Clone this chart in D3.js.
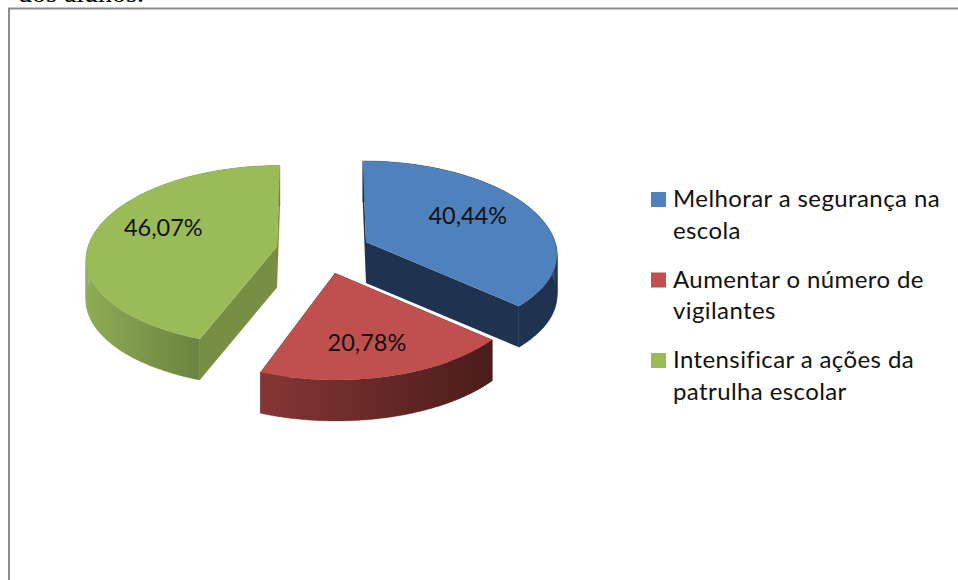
<!DOCTYPE html>
<html lang="pt">
<head>
<meta charset="utf-8">
<title>Segurança na escola</title>
<script src="https://cdn.jsdelivr.net/npm/d3@7"></script>
<style>
  html, body { margin: 0; padding: 0; background: #fff; overflow: hidden; }
  svg { display: block; }
  text { font-family: Lato, "Open Sans", sans-serif; fill: #111; }
</style>
</head>
<body>
<svg id="chart" width="958" height="580"></svg>
<script>
// Survey answers, in drawing order
const categories = ["Melhorar a segurança na escola", "Aumentar o número de vigilantes", "Intensificar a ações da patrulha escolar"];
const legendLines = [["Melhorar a segurança na", "escola"], ["Aumentar o número de", "vigilantes"], ["Intensificar a ações da", "patrulha escolar"]];
const values = [40.44, 20.78, 46.07];

// Top faces, cut faces and the two ends of each rim gradient
const topColors = ["#4f81bd", "#c0504d", "#9bbb59"];
const cutColors = ["#1f3350", "#4c1d1b", "#768f43"];
const rimColors = [["#1f3350", "#1f3350"], ["#853635", "#4a1c1a"], ["#8eab55", "#6a8440"]];

// Apex of each exploded slice, its foreshortening and angle warp, and its label nudge
const apexes = [[366, 242], [335, 273], [277, 246.5]];
const frontShrink = [0.085, 0, 0.07];
const angleWarps = [5.3, 5.3, 4.2];
const labelNudges = [[1, -4], [-3, 6], [-2, -8]];

const svg = d3.select("#chart");
const radiusX = 189, radiusY = 92.2, perspective = 0.138, depth = 41;
const vanishX = 320, lean = 0.07;

// Perspective projection of a point on the pie disc (angle from 12 o'clock, clockwise)
function project(i, angle, r = 1) {
  const apex = apexes[i];
  const half = Math.sin(angle / 2);
  const a = angle - angleWarps[i] * Math.PI / 180 * half * half;
  const c = Math.cos(a), s = Math.sin(a);
  const front = Math.min(0, c);
  const w = (1 + perspective * c) / (1 - frontShrink[i] * front * front);
  return [
    apex[0] + r * radiusX * s / w + (vanishX - apex[0]) * lean * c * r,
    apex[1] - r * radiusY * c / w
  ];
}

const slices = d3.pie().sort(null)(values);
const outline = d3.line();
const defs = svg.append("defs");

// Page frame and the end of the caption running above it
svg.append("text").attr("x", 18).attr("y", 1.5)
  .style("font-family", "'Liberation Serif', serif").style("font-size", "28px")
  .style("fill", "#000").text("dos alunos.");
svg.append("path").attr("d", "M9,580V8.5H958").attr("fill", "none")
  .attr("stroke", "#8c8c8c").attr("stroke-width", 2);

function arcPoints(d, i) {
  const steps = 96;
  return d3.range(steps + 1).map(k =>
    project(i, d.startAngle + (d.endAngle - d.startAngle) * k / steps));
}

slices.forEach((d, i) => {
  const apex = apexes[i];
  const rim = arcPoints(d, i);
  const g = svg.append("g").attr("class", "slice");

  const xs = d3.extent(rim.filter(p => p[1] > apex[1] - 20), p => p[0]);
  const gradId = "rim" + i;
  const grad = defs.append("linearGradient").attr("id", gradId)
    .attr("gradientUnits", "userSpaceOnUse")
    .attr("x1", xs[0]).attr("x2", xs[1]).attr("y1", 0).attr("y2", 0);
  grad.append("stop").attr("offset", 0).attr("stop-color", rimColors[i][0]);
  grad.append("stop").attr("offset", 1).attr("stop-color", rimColors[i][1]);

  // Cut faces go first, then the rim as a strip of small quads, then the top face
  [rim[0], rim[rim.length - 1]].forEach(p => {
    g.append("path")
      .attr("d", outline([apex, p, [p[0], p[1] + depth], [apex[0], apex[1] + depth]]) + "Z")
      .attr("fill", cutColors[i]);
  });
  const strip = d3.pairs(rim).map(([a, b]) =>
    outline([a, b, [b[0], b[1] + depth], [a[0], a[1] + depth]]) + "Z").join("");
  g.append("path").attr("d", strip)
    .attr("fill", `url(#${gradId})`)
    .attr("stroke", `url(#${gradId})`).attr("stroke-width", 0.4);
  g.append("path")
    .attr("d", outline([apex].concat(rim)) + "Z")
    .attr("fill", topColors[i]);
});

// Value labels inside the top faces
const formatValue = v => d3.format(".2f")(v).replace(".", ",") + "%";
svg.selectAll("text.value").data(slices).join("text")
  .attr("class", "value")
  .attr("text-anchor", "middle")
  .style("font-size", "23.5px")
  .attr("x", (d, i) => project(i, (d.startAngle + d.endAngle) / 2, 0.62)[0] + labelNudges[i][0])
  .attr("y", (d, i) => project(i, (d.startAngle + d.endAngle) / 2, 0.62)[1] + labelNudges[i][1] + 8)
  .text(d => formatValue(d.value));

// Legend: swatch plus two wrapped lines for each answer
const legendY = d3.scalePoint().domain(categories).range([207, 368]);
const legend = svg.selectAll("g.legend").data(categories).join("g")
  .attr("class", "legend")
  .attr("transform", d => `translate(651,${legendY(d)})`);
legend.append("rect").attr("y", -15).attr("width", 15).attr("height", 15)
  .attr("fill", (d, i) => topColors[i]);
legend.each(function (d, i) {
  d3.select(this).selectAll("text").data(legendLines[i]).join("text")
    .attr("x", 22).attr("y", (t, j) => j * 31.5)
    .style("font-size", "24px").style("letter-spacing", "0.4px")
    .text(t => t);
});
</script>
</body>
</html>
